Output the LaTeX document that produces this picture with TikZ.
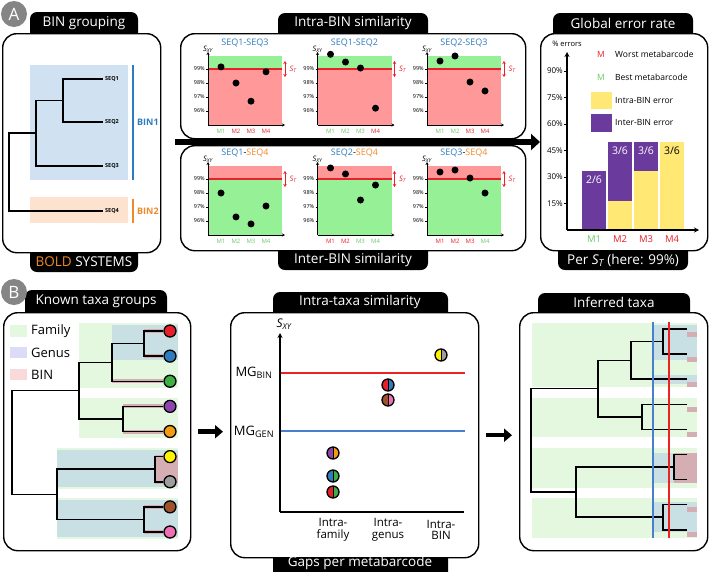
\documentclass[tikz,border=0pt]{standalone}
\usepackage{fontspec}
\setmainfont{Open Sans}
\usepackage{tikz}
\usetikzlibrary{arrows.meta,positioning}

\newcommand\fsz[1]{\fontsize{#1}{#1}\selectfont}
\newcommand\Sxy{{\itshape S}\textsubscript{\itshape XY}}
\newcommand\Sst{{\itshape S}\textsubscript{\itshape T}}

\definecolor{lettergray}{HTML}{858585}
\definecolor{seqblue}{HTML}{2E7CC0}
\definecolor{seqorange}{HTML}{F0882A}
\definecolor{binblue}{HTML}{D0E2F2}
\definecolor{binorange}{HTML}{FDE3CF}
\definecolor{okgreen}{HTML}{96F096}
\definecolor{badred}{HTML}{FF9999}
\definecolor{stred}{HTML}{E8202A}
\definecolor{mgreen}{HTML}{6CC86C}
\definecolor{mred}{HTML}{E8202A}
\definecolor{intrayel}{HTML}{FFE873}
\definecolor{interpur}{HTML}{6A3A9C}
\definecolor{famgreen}{HTML}{E3F8DF}
\definecolor{genblue}{HTML}{DCDCF8}
\definecolor{binpink}{HTML}{F9DADB}
\definecolor{gengreen}{HTML}{C8E0E4}
\definecolor{binmauve}{HTML}{D4AEB2}
\definecolor{mgbin}{HTML}{EE2222}
\definecolor{mggen}{HTML}{4A7FD0}
\definecolor{lfred}{HTML}{E8202A}
\definecolor{lfblue}{HTML}{2E7CC0}
\definecolor{lfgreen}{HTML}{3CB043}
\definecolor{lfpurple}{HTML}{8E44AD}
\definecolor{lforange}{HTML}{F39C12}
\definecolor{lfyellow}{HTML}{FFF200}
\definecolor{lfgray}{HTML}{9E9E9E}
\definecolor{lfbrown}{HTML}{A0522D}
\definecolor{lfpink}{HTML}{F06EB4}

\tikzset{
  panel/.style={draw=black, line width=1.4pt, rounded corners=14pt, fill=white, anchor=north west, inner sep=0pt},
  tabbox/.style={fill=black, rounded corners=7pt},
  tabtxt/.style={text=white, font=\fsz{13.5}, inner sep=0pt},
  letter/.style={circle, fill=lettergray, text=white, font=\fsz{17}, minimum size=26pt, inner sep=0pt},
  branch/.style={draw=black, line width=1.5pt},
  binshade/.style={draw=binmauve, line width=4pt},
  seqlbl/.style={font=\bfseries\fsz{5.5}, anchor=west, inner sep=2pt},
  binlbl/.style={font=\bfseries\fsz{9}, anchor=west, inner sep=1pt},
  paxis/.style={draw=black, line width=0.9pt, -{Stealth[length=3pt,width=3pt]}},
  ptick/.style={draw=black, line width=0.6pt},
  tlab/.style={font=\fsz{5.5}, anchor=east, inner sep=1pt, pos=0},
  mlab/.style={font=\fsz{6}, inner sep=0pt},
  sdot/.style={circle, fill=black, minimum size=7pt, inner sep=0pt},
  stline/.style={draw=stred, line width=1.1pt},
  starr/.style={draw=stred, line width=0.9pt, {Stealth[length=3pt,width=3.5pt]}-{Stealth[length=3pt,width=3.5pt]}},
  stlab/.style={text=stred, font=\fsz{7.5}, inner sep=0pt},
  ptitle/.style={font=\fsz{9}, inner sep=0pt},
  sxy/.style={font=\fsz{7.5}, inner sep=0pt},
  bigarrow/.style={draw=black, line width=6pt, -{Triangle[length=9pt,width=16pt]}},
  midarrow/.style={draw=black, line width=4.5pt, -{Triangle[length=8pt,width=13pt]}},
  gaxis/.style={draw=black, line width=1.3pt, -{Stealth[length=5pt,width=5pt]}},
  gtick/.style={font=\fsz{8}, anchor=east, inner sep=1pt},
  leg/.style={font=\fsz{8.5}, inner sep=0pt},
  barlbl/.style={font=\fsz{10.5}, inner sep=0pt},
  leaf/.style={circle, draw=black, line width=1.3pt, fill=#1, minimum size=12pt, inner sep=0pt},
  pairdot/.style 2 args={circle, draw=black, line width=1.3pt, minimum size=12pt, inner sep=0pt,
    path picture={
      \fill[#1] (path picture bounding box.south west) rectangle (path picture bounding box.north);
      \fill[#2] (path picture bounding box.south east) rectangle (path picture bounding box.north);
      \draw[line width=0.8pt] (path picture bounding box.south) -- (path picture bounding box.north);}},
  xlab/.style={font=\fsz{11.5}, align=center, inner sep=0pt},
  leglbl/.style={font=\fsz{13}, anchor=west, inner sep=0pt}
}

% one similarity plot: name, x, y, title, upper fill, lower fill, M colour/value
\newcommand\simplot[7]{%
  \begin{scope}[shift={(#2,#3)}]
    \fill[#5] (0,0) rectangle (74,13);
    \fill[#6] (0,13) rectangle (74,69);
    \draw[stline] (0,13) -- (74,13);
    \draw[paxis] (0,69) -- (0,-4);
    \draw[paxis] (0,69) -- (77,69);
    \foreach \v [count=\i] in {99,98,97,96}
      \draw[ptick] (-2,{14*\i-1}) -- (0,{14*\i-1}) node[tlab] (#1y\v) {\v\%};
    \foreach \c/\v [count=\i] in {#7} {
      \node[mlab, text=\c] (#1m\i) at ({15*\i-2},75) {M\i};
      \node[sdot] (#1d\i) at ({15*\i-2},{13-14*(\v-99)}) {};
    }
    \node[ptitle] (#1title) at (37,-13) {#4};
    \node[sxy] (#1sxy) at (0,-7) {\Sxy};
    \draw[starr] (77,5) -- (77,21);
    \node[stlab] (#1st) at (85,13) {\Sst};
  \end{scope}}

\begin{document}
\begin{tikzpicture}[x=1pt,y=-1pt]
  \useasboundingbox (0,0) rectangle (709,571);

  % tabs behind the panels
  \fill[tabbox] (30,12) rectangle (138,45);
  \fill[tabbox] (30,240) rectangle (138,272);
  \fill[tabbox] (278,13) rectangle (428,45);
  \fill[tabbox] (278,238) rectangle (428,270);
  \fill[tabbox] (553,13) rectangle (693,45);
  \fill[tabbox] (558,238) rectangle (688,270);
  \fill[tabbox] (25,290) rectangle (167,325);
  \fill[tabbox] (273,292) rectangle (448,325);
  \fill[tabbox] (273,545) rectangle (448,585);
  \fill[tabbox] (538,293) rectangle (690,325);

  % panels
  \node[panel, minimum width=158, minimum height=219] (boxA1) at (2,33) {};
  \node[panel, minimum width=345, minimum height=105] (boxA2) at (180,33) {};
  \node[panel, minimum width=345, minimum height=105] (boxA2b) at (180,145) {};
  \node[panel, minimum width=167, minimum height=217] (boxA3) at (540,33) {};
  \node[panel, minimum width=187, minimum height=238] (boxB1) at (3,312) {};
  \node[panel, minimum width=248, minimum height=245] (boxB2) at (230,312) {};
  \node[panel, minimum width=188, minimum height=238] (boxB3) at (519,312) {};

  \node[letter] (labA) at (14,14) {A};
  \node[letter] (labB) at (14,292) {B};

  % ---- A: BIN grouping
  \fill[binblue] (30,65) rectangle (128,180);
  \fill[binorange] (30,197) rectangle (128,223);
  \draw[seqblue, line width=2.5pt] (133,65) -- (133,180);
  \draw[seqorange, line width=2.5pt] (133,199) -- (133,223);
  \node[binlbl, text=seqblue] (bin1) at (136,122) {BIN1};
  \node[binlbl, text=seqorange] (bin2) at (136,211) {BIN2};
  \coordinate (s1) at (103,79);
  \coordinate (s2) at (103,122);
  \coordinate (s3) at (103,166);
  \coordinate (s4) at (103,211);
  \coordinate (j12) at (63,100.5);
  \coordinate (j123) at (36,133);
  \coordinate (jroot) at (9,172);
  \draw[branch] (s1) -| (j12) |- (s2);
  \draw[branch] (j12) -| (j123) |- (s3);
  \draw[branch] (j123) -| (jroot) |- (s4);
  \foreach \s in {1,2,3,4}
    \node[seqlbl] (ls\s) at (s\s) {SEQ\s};

  % ---- A: similarity plots
  \simplot{p1}{208}{56}{\textcolor{seqblue}{SEQ1-SEQ3}}{okgreen}{badred}{mgreen/99.15, mred/98, mred/96.7, mred/98.8}
  \simplot{p2}{317.5}{56}{\textcolor{seqblue}{SEQ1-SEQ2}}{okgreen}{badred}{mgreen/100.05, mgreen/99.5, mgreen/99.07, mred/96.2}
  \simplot{p3}{427}{56}{\textcolor{seqblue}{SEQ2-SEQ3}}{okgreen}{badred}{mgreen/99.57, mgreen/99.93, mred/98.07, mred/97.43}
  \simplot{p4}{208}{166}{\textcolor{seqblue}{SEQ1}-\textcolor{seqorange}{SEQ4}}{badred}{okgreen}{mgreen/98, mgreen/96.29, mgreen/95.79, mgreen/97.07}
  \simplot{p5}{317.5}{166}{\textcolor{seqblue}{SEQ2}-\textcolor{seqorange}{SEQ4}}{badred}{okgreen}{mred/99.79, mred/99.36, mgreen/97.5, mgreen/98.57}
  \simplot{p6}{427}{166}{\textcolor{seqblue}{SEQ3}-\textcolor{seqorange}{SEQ4}}{badred}{okgreen}{mred/99.5, mred/99.64, mred/99.07, mgreen/98}

  \coordinate (fork) at (175,142);
  \draw[bigarrow] (fork) -- (fork -| boxA3.west);

  % ---- A: global error rate
  \fill[interpur] (582,230) rectangle (606,171.1);
  \fill[intrayel] (608,230) rectangle (632,200.6);
  \fill[interpur] (608,200.6) rectangle (632,141.7);
  \fill[intrayel] (634,230) rectangle (658,171.1);
  \fill[interpur] (634,171.1) rectangle (658,141.7);
  \fill[intrayel] (660,230) rectangle (684,141.7);
  \node[barlbl, text=white] (e1) at (594,180) {2/6};
  \node[barlbl, text=white] (e2) at (620,151) {3/6};
  \node[barlbl, text=white] (e3) at (646,151) {3/6};
  \node[barlbl] (e4) at (672,151) {3/6};
  \draw[gaxis] (567,230) -- (567,52);
  \draw[gaxis] (567,230) -- (699,230);
  \node[font=\fsz{7.5}, inner sep=0pt] (errs) at (567,44) {\% errors};
  \foreach \p [count=\i] in {15,30,45,60,75,90} {
    \draw[line width=0.8pt] (564,{230-26.5*\i}) -- (567,{230-26.5*\i});
    \node[gtick] (g\p) at (564,{230-26.5*\i}) {\p\%};
  }
  \foreach \c [count=\i] in {mgreen,mred,mred,mred}
    \node[font=\fsz{9.5}, text=\c, inner sep=0pt] (gm\i) at ({568+26*\i},239) {M\i};
  \node[leg, text=mred] (worstm) at (601,54) {M};
  \node[leg, anchor=west] (worst) at (615,54) {Worst metabarcode};
  \node[leg, text=mgreen] (bestm) at (601,77) {M};
  \node[leg, anchor=west] (best) at (615,77) {Best metabarcode};
  \fill[intrayel] (591,92) rectangle (612,109);
  \node[leg, anchor=west] (intra) at (615,100.5) {Intra-BIN error};
  \fill[interpur] (591,114) rectangle (612,132);
  \node[leg, anchor=west] (inter) at (615,123) {Inter-BIN error};

  % ---- B: known taxa groups
  \fill[famgreen] (10,325) rectangle (27,337);
  \fill[genblue] (10,347) rectangle (27,358);
  \fill[binpink] (10,369) rectangle (27,380);
  \node[leglbl] (family) at (31,331) {Family};
  \node[leglbl] (genus) at (31,353) {Genus};
  \node[leglbl] (bin) at (31,375) {BIN};
  \fill[famgreen] (79,323) rectangle (178,388);
  \fill[famgreen] (79,398) rectangle (178,438);
  \fill[famgreen] (57,448) rectangle (178,539);
  \fill[gengreen] (112,325) rectangle (178,360);
  \fill[gengreen] (57,450) rectangle (178,487);
  \fill[white] (57,489) rectangle (178,498);
  \fill[gengreen] (57,500) rectangle (178,537);
  \fill[binmauve] (155,455) rectangle (178,483);
  \foreach \c [count=\i] in {lfred,lfblue,lfgreen,lfpurple,lforange,lfyellow,lfgray,lfbrown,lfpink}
    \node[leaf=\c] (l\i) at (170,{331+25.125*(\i-1)}) {};
  \coordinate (k12) at (144,343.5);
  \coordinate (k123) at (112,362.4);
  \coordinate (k45) at (123,419);
  \coordinate (k15) at (79,390.7);
  \coordinate (k67) at (155,469.2);
  \coordinate (k89) at (144,519.5);
  \coordinate (k69) at (57,494.3);
  \coordinate (kroot) at (12,442.5);
  \foreach \a/\b in {k12/l1,k12/l2,k123/l3,k45/l4,k45/l5,k67/l6,k67/l7,k89/l8,k89/l9}
    \draw[binshade] (\a |- \b) -- (\b.west);
  \draw[branch] (l1.west) -| (k12) |- (l2.west);
  \draw[branch] (k12) -| (k123) |- (l3.west);
  \draw[branch] (l4.west) -| (k45) |- (l5.west);
  \draw[branch] (k123) -| (k15) |- (k45);
  \draw[branch] (l6.west) -| (k67) |- (l7.west);
  \draw[branch] (l8.west) -| (k89) |- (l9.west);
  \draw[branch] (k67) -| (k69) |- (k89);
  \draw[branch] (k15) -| (kroot) |- (k69);

  \coordinate (b1out) at ([xshift=7pt]boxB1.east);
  \path (boxB1.east -| boxB2.west) coordinate (b2in);
  \draw[midarrow] (b1out) -- ([xshift=-7pt]b2in);

  % ---- B: intra-taxa similarity
  \draw[stline, draw=mgbin, line width=2pt] (280,373) -- (465,373);
  \draw[stline, draw=mggen, line width=2pt] (280,431) -- (465,431);
  \draw[gaxis] (280,512) -- (280,333);
  \draw[line width=1.3pt] (280,512) -- (464,512);
  \node[font=\fsz{12}, inner sep=0pt] (sxyB) at (284,324) {\Sxy};
  \node[font=\fsz{13}, inner sep=0pt] (mgB) at (254,373) {MG\textsubscript{BIN}};
  \node[font=\fsz{13}, inner sep=0pt] (mgG) at (254,432) {MG\textsubscript{GEN}};
  \node[pairdot={lfyellow}{lfgray}] (dyg) at (441,355) {};
  \node[pairdot={lfred}{lfblue}] (drb) at (388,385) {};
  \node[pairdot={lfbrown}{lfpink}] (dbp) at (388,400) {};
  \node[pairdot={lfpurple}{lforange}] (dpo) at (333,453) {};
  \node[pairdot={lfblue}{lfgreen}] (dbg) at (333,476) {};
  \node[pairdot={lfred}{lfgreen}] (drg) at (333,492) {};
  \node[xlab] (xfam) at (333,530) {Intra-\\family};
  \node[xlab] (xgen) at (388,530) {Intra-\\genus};
  \node[xlab] (xbin) at (441,530) {Intra-\\BIN};

  \coordinate (b2out) at ([xshift=7pt]boxB2.east);
  \path (boxB2.east -| boxB3.west) coordinate (b3in);
  \draw[midarrow] (b2out) -- ([xshift=-7pt]b3in);

  % ---- B: inferred taxa
  \fill[famgreen] (532,323) rectangle (697,387);
  \fill[famgreen] (532,398) rectangle (697,437);
  \fill[famgreen] (532,448) rectangle (697,488);
  \fill[famgreen] (532,498) rectangle (697,538);
  \fill[gengreen] (653,325) rectangle (697,360);
  \fill[gengreen] (653,375) rectangle (697,384);
  \fill[gengreen] (653,453) rectangle (697,483);
  \fill[gengreen] (653,502) rectangle (697,532);
  \fill[binmauve] (674,453) rectangle (697,483);
  \foreach \i in {1,...,9}
    \coordinate (r\i) at (687,{329+25.1*(\i-1)});
  \foreach \i in {1,2,3,4,5,8,9}
    \fill[binmauve] ([yshift=-2.5pt]r\i) rectangle ++(10,5);
  \coordinate (q12) at (663,341.6);
  \coordinate (q123) at (631,360.4);
  \coordinate (q45) at (642,416.9);
  \coordinate (q15) at (598,388.6);
  \coordinate (q67) at (674,467);
  \coordinate (q89) at (663,517.2);
  \coordinate (q69) at (576,492.1);
  \coordinate (qroot) at (531,440.4);
  \draw[branch] (r1) -| (q12) |- (r2);
  \draw[branch] (q12) -| (q123) |- (r3);
  \draw[branch] (r4) -| (q45) |- (r5);
  \draw[branch] (q123) -| (q15) |- (q45);
  \draw[branch] (r6) -| (q67) |- (r7);
  \draw[branch] (r8) -| (q89) |- (r9);
  \draw[branch] (q67) -| (q69) |- (q89);
  \draw[branch] (q15) -| (qroot) |- (q69);
  \coordinate (gentop) at (653,322);
  \coordinate (genbot) at (653,538);
  \coordinate (bintop) at (669,322);
  \coordinate (binbot) at (669,538);
  \draw[mggen, line width=2pt] (gentop) -- (genbot);
  \draw[mgbin, line width=2pt] (bintop) -- (binbot);

  % tab texts
  \node[tabtxt] (tA1) at (84,23) {BIN grouping};
  \node[tabtxt] (tA1b) at (84,262) {\textcolor{seqorange}{BOLD} SYSTEMS};
  \node[tabtxt] (tA2) at (353,23) {Intra-BIN similarity};
  \node[tabtxt] (tA2b) at (353,260) {Inter-BIN similarity};
  \node[tabtxt] (tA3) at (623,23) {Global error rate};
  \node[tabtxt] (tA3b) at (623,260) {Per \Sst{} (here: 99\%)};
  \node[tabtxt] (tB1) at (96,301) {Known taxa groups};
  \node[tabtxt] (tB2) at (360,302) {Intra-taxa similarity};
  \node[tabtxt] (tB2b) at (360,563) {Gaps per metabarcode};
  \node[tabtxt] (tB3) at (614,302) {Inferred taxa};
\end{tikzpicture}
\end{document}
